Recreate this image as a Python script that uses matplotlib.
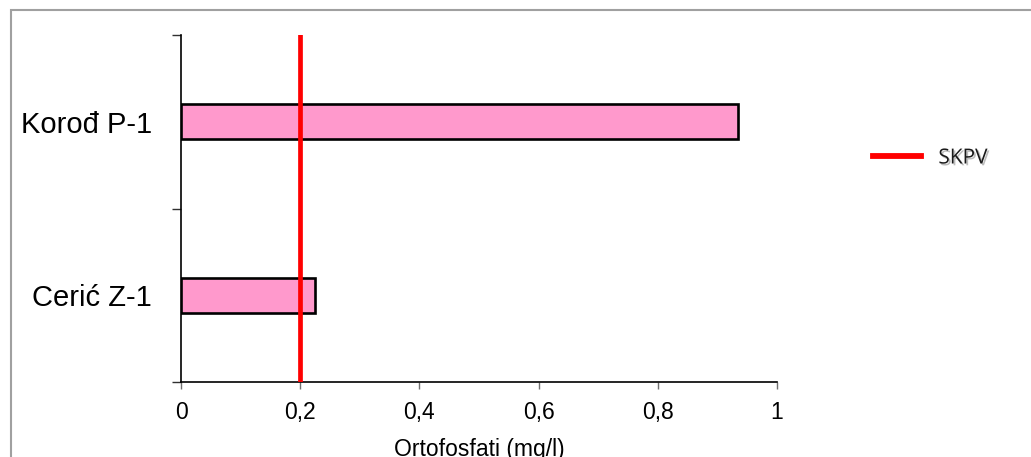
import matplotlib
matplotlib.use("Agg")
import matplotlib.pyplot as plt
from matplotlib.lines import Line2D
from matplotlib.patches import Rectangle
import matplotlib.patheffects as pe

# Data
stations = ["Cerić Z-1", "Korođ P-1"]
orthophosphate = [0.224, 0.935]
skpv_limit = 0.2
x_ticks = [0, 0.2, 0.4, 0.6, 0.8, 1]
x_tick_labels = ["0", "0,2", "0,4", "0,6", "0,8", "1"]
x_label = "Ortofosfati (mg/l)"
legend_label = "SKPV"

plt.rcParams["font.family"] = ["Liberation Sans", "DejaVu Sans"]

W, H = 1031, 457
fig = plt.figure(figsize=(W / 100, H / 100), dpi=100)

# outer chart-area frame (runs off the right and bottom edges)
fig.patches.append(Rectangle((11 / W, -0.05), 1.1, 1 - 10 / H + 0.05,
                             transform=fig.transFigure, fill=False,
                             edgecolor="#a0a0a0", linewidth=1.5, zorder=0))

ax = fig.add_axes([181 / W, 1 - 382 / H, 596 / W, 347 / H])

ypos = list(range(len(stations)))
ax.barh(ypos, orthophosphate, height=0.2, color="#ff99cc",
        edgecolor="black", linewidth=1.9, zorder=2)
ax.axvline(skpv_limit, color="#ff0000", linewidth=3.4, zorder=3)

ax.set_xlim(0, 1)
ax.set_ylim(-0.5, len(stations) - 0.5)

ax.set_xticks(x_ticks)
ax.set_xticklabels(x_tick_labels, fontsize=16.5)
ax.tick_params(axis="x", length=5, width=1, color="#707070", pad=8.5)

ax.set_yticks(ypos)
ax.set_yticklabels(stations, fontsize=21)
ax.set_yticks([-0.5, 0.5, 1.5], minor=True)
ax.tick_params(axis="y", which="major", length=0, pad=21)
ax.tick_params(axis="y", which="minor", length=6.5, width=1, color="#303030")

for s in ("top", "right"):
    ax.spines[s].set_visible(False)
for s in ("left", "bottom"):
    ax.spines[s].set_linewidth(1.2)

ax.set_xlabel(x_label, fontsize=16.5, labelpad=10)

handle = Line2D([], [], color="#ff0000", linewidth=4.2)
leg = fig.legend([handle], [legend_label], loc="center left",
                 bbox_to_anchor=(854 / W, 1 - 158 / H), frameon=False,
                 handlelength=2.3, handletextpad=0.85,
                 prop={"family": "Open Sans", "size": 15})
for t in leg.get_texts():
    t.set_color("#1a1a1a")
    t.set_path_effects([pe.withSimplePatchShadow(offset=(1.3, -1.3),
                                                 shadow_rgbFace="#909090",
                                                 alpha=0.6)])

fig.savefig("out.png", dpi=100)
